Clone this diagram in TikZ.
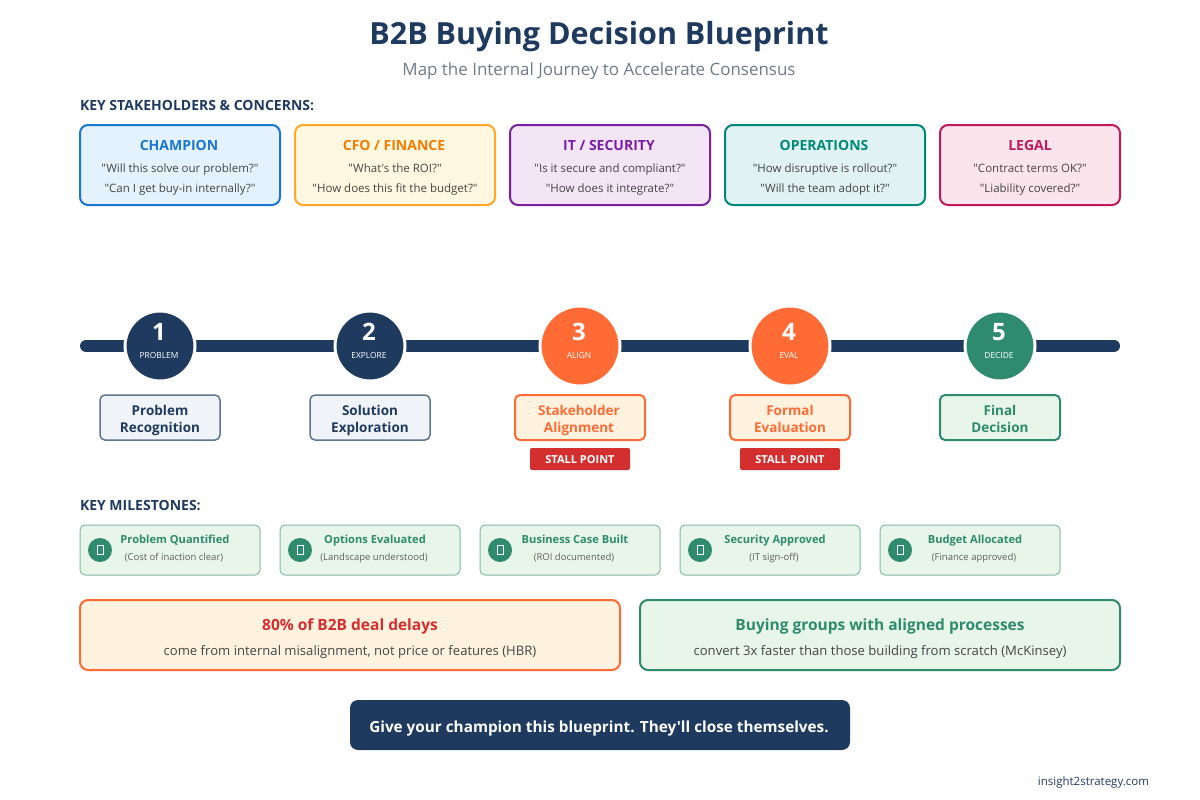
\documentclass[tikz,border=0pt]{standalone}
\usepackage{fontspec}
\setmainfont{Open Sans}[Ligatures=TeXOff]
\definecolor{navy}{HTML}{1E3A5F}
\definecolor{orangeM}{HTML}{FF6B35}
\definecolor{greenM}{HTML}{2E8B6E}
\definecolor{redM}{HTML}{D32F2F}
\definecolor{paleO}{HTML}{FFF3E0}
\definecolor{paleG}{HTML}{E8F5E9}
\definecolor{paleN}{HTML}{F0F4F8}
\definecolor{txt}{HTML}{444444}
\definecolor{sub}{HTML}{6C7A89}
\definecolor{cBlue}{HTML}{1976D2}
\definecolor{pBlue}{HTML}{E3F2FD}
\definecolor{cAmb}{HTML}{FFA726}
\definecolor{tAmb}{HTML}{F57C00}
\definecolor{pAmb}{HTML}{FFF8E1}
\definecolor{cPur}{HTML}{7B1FA2}
\definecolor{pPur}{HTML}{F3E5F5}
\definecolor{cTeal}{HTML}{00897B}
\definecolor{pTeal}{HTML}{E0F2F1}
\definecolor{cPink}{HTML}{C2185B}
\definecolor{pPink}{HTML}{FCE4EC}
\tikzset{
 t/.style={inner sep=0pt,outer sep=0pt,anchor=base,align=center},
 boxa/.style={rectangle,rounded corners=#1,inner sep=0pt,outer sep=0pt,anchor=north west},
 card/.style n args={3}{boxa=8pt,draw=#1,fill=#2,line width=2pt,minimum width=#3,minimum height=80pt},
 cardt/.style={t,font=\fontsize{14}{16}\selectfont\bfseries},
 cardq/.style={t,font=\fontsize{11.5}{14}\selectfont,text=txt},
 sect/.style={t,anchor=base west,font=\fontsize{14}{16}\selectfont\bfseries,text=navy},
 stepc/.style n args={2}{circle,fill=#1,draw=white,line width=3pt,minimum size=#2,inner sep=0pt,outer sep=0pt},
 stepn/.style={t,text=white,font=\fontsize{24}{28}\selectfont\bfseries},
 stepl/.style={t,text=white,font=\fontsize{8.4}{11}\selectfont},
 lab/.style n args={4}{boxa=5pt,draw=#1,fill=#2,line width=#4,minimum width=#3,minimum height=45pt},
 labt/.style={t,font=\fontsize{13.5}{17}\selectfont\bfseries},
 stall/.style={boxa=2pt,fill=redM,minimum width=100pt,minimum height=22pt},
 stallt/.style={t,text=white,font=\fontsize{11}{13}\selectfont\bfseries},
 mile/.style={boxa=5pt,draw=greenM!60,fill=paleG,line width=1pt,minimum width=180pt,minimum height=50pt},
 milec/.style={circle,fill=greenM,minimum size=24pt,inner sep=0pt,outer sep=0pt},
 tofu/.style={rectangle,draw=white,line width=0.8pt,minimum width=6pt,minimum height=9pt,inner sep=0pt},
 milet/.style={t,text=greenM,font=\fontsize{11.1}{14}\selectfont\bfseries},
 miles/.style={t,text=txt!85,font=\fontsize{9.5}{12}\selectfont},
 stat/.style n args={3}{boxa=8pt,draw=#1,fill=#2,line width=2pt,minimum width=#3,minimum height=70pt},
 statt/.style={t,font=\fontsize{15.5}{19}\selectfont\bfseries},
 stats/.style={t,text=txt,font=\fontsize{13.1}{16}\selectfont},
}
\begin{document}
\begin{tikzpicture}[x=1pt,y=-1pt]
\useasboundingbox (0,0) rectangle (1200,800);
\node[t,text=navy,font=\fontsize{30.5}{38}\selectfont\bfseries] (title) at (599,45) {B2B Buying Decision Blueprint};
\node[t,text=sub,font=\fontsize{16.95}{22}\selectfont] (subtitle) at (599,75) {Map the Internal Journey to Accelerate Consensus};
\node[sect] (sec1) at (80,110.5) {KEY STAKEHOLDERS \& CONCERNS:};
% stakeholder cards
\node[card={cBlue}{pBlue}{200pt}] (c1) at (80,125) {};
\node[card={cAmb}{pAmb}{200pt}] (c2) at (295,125) {};
\node[card={cPur}{pPur}{200pt}] (c3) at (510,125) {};
\node[card={cTeal}{pTeal}{200pt}] (c4) at (725,125) {};
\node[card={cPink}{pPink}{180pt}] (c5) at (940,125) {};
\node[cardt,text=cBlue] (c1t) at (179,150) {CHAMPION};
\node[cardq] (c1a) at (180,172) {"Will this solve our problem?"};
\node[cardq] (c1b) at (180,192) {"Can I get buy-in internally?"};
\node[cardt,text=tAmb] (c2t) at (394,150) {CFO / FINANCE};
\node[cardq] (c2a) at (395,172) {"What's the ROI?"};
\node[cardq] (c2b) at (395,192) {"How does this fit the budget?"};
\node[cardt,text=cPur] (c3t) at (609,150) {IT / SECURITY};
\node[cardq] (c3a) at (610,172) {"Is it secure and compliant?"};
\node[cardq] (c3b) at (610,192) {"How does it integrate?"};
\node[cardt,text=cTeal] (c4t) at (824,150) {OPERATIONS};
\node[cardq] (c4a) at (825,172) {"How disruptive is rollout?"};
\node[cardq] (c4b) at (825,192) {"Will the team adopt it?"};
\node[cardt,text=cPink] (c5t) at (1030,150) {LEGAL};
\node[cardq] (c5a) at (1030,172) {"Contract terms OK?"};
\node[cardq] (c5b) at (1030,192) {"Liability covered?"};
% timeline
\coordinate (tlA) at (86,346);
\coordinate (tlB) at (1114,346);
\draw[navy,line width=12pt,line cap=round] (tlA) -- (tlB);
\node[stepc={navy}{70pt}] (s1) at (160,346) {};
\node[stepc={navy}{70pt}] (s2) at (370,346) {};
\node[stepc={orangeM}{80pt}] (s3) at (580,346) {};
\node[stepc={orangeM}{80pt}] (s4) at (790,346) {};
\node[stepc={greenM}{70pt}] (s5) at (1000,346) {};
\foreach \x/\n/\l in {160/1/PROBLEM,370/2/EXPLORE,580/3/ALIGN,790/4/EVAL,1000/5/DECIDE}{
  \node[stepn] (n\n) at (\x-1,340.5) {\n};
  \node[stepl] (l\n) at (\x-1,358) {\l};
}
% step labels
\node[lab={navy!70}{paleN}{120pt}{1.5pt}] (b1) at (100,395) {};
\node[lab={navy!70}{paleN}{120pt}{1.5pt}] (b2) at (310,395) {};
\node[lab={orangeM}{paleO}{130pt}{2pt}] (b3) at (515,395) {};
\node[lab={orangeM}{paleO}{120pt}{2pt}] (b4) at (730,395) {};
\node[lab={greenM}{paleG}{120pt}{2pt}] (b5) at (940,395) {};
\node[labt,text=navy] (b1a) at (160,415) {Problem};
\node[labt,text=navy] (b1b) at (160,432) {Recognition};
\node[labt,text=navy] (b2a) at (370,415) {Solution};
\node[labt,text=navy] (b2b) at (370,432) {Exploration};
\node[labt,text=orangeM] (b3a) at (579,415) {Stakeholder};
\node[labt,text=orangeM] (b3b) at (579,432) {Alignment};
\node[labt,text=orangeM] (b4a) at (790,415) {Formal};
\node[labt,text=orangeM] (b4b) at (790,432) {Evaluation};
\node[labt,text=greenM] (b5a) at (1000,415) {Final};
\node[labt,text=greenM] (b5b) at (1000,432) {Decision};
\node[stall] (st3) at (530,448) {};
\node[stall] (st4) at (740,448) {};
\node[stallt] (st3t) at (580,463) {STALL POINT};
\node[stallt] (st4t) at (790,463) {STALL POINT};
% milestones
\node[sect] (sec2) at (80,510) {KEY MILESTONES:};
\foreach \i/\x/\a/\b in {1/80/Problem Quantified/(Cost of inaction clear),2/280/Options Evaluated/(Landscape understood),3/480/Business Case Built/(ROI documented),4/680/Security Approved/(IT sign-off),5/880/Budget Allocated/(Finance approved)}{
  \node[mile] (m\i) at (\x,525) {};
  \node[milec] (mc\i) at (\x+20,550) {};
  \node[tofu] (mg\i) at (\x+20,550) {};
  \node[milet] (mt\i) at (\x+95,543) {\a};
  \node[miles] (ms\i) at (\x+94,560) {\b};
}
% stats
\node[stat={orangeM}{paleO}{540pt}] (k1) at (80,600) {};
\node[stat={greenM}{paleG}{480pt}] (k2) at (640,600) {};
\node[statt,text=redM] (k1t) at (350,630) {80\% of B2B deal delays};
\node[stats] (k1s) at (350,655) {come from internal misalignment, not price or features (HBR)};
\node[statt,text=greenM] (k2t) at (880,630) {Buying groups with aligned processes};
\node[stats] (k2s) at (880,655) {convert 3x faster than those building from scratch (McKinsey)};
% cta
\node[boxa=8pt,fill=navy,minimum width=500pt,minimum height=50pt] (cta) at (350,700) {};
\node[t,text=white,font=\fontsize{15.3}{19}\selectfont\bfseries] (ctat) at (599,732) {Give your champion this blueprint. They'll close themselves.};
\node[t,anchor=base east,text=navy,font=\fontsize{11.5}{13}\selectfont] (foot) at (1149,785) {insight2strategy.com};
\end{tikzpicture}
\end{document}
